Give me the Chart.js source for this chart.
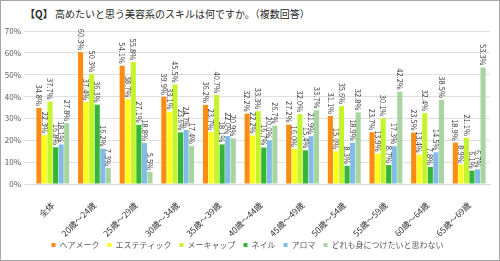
<!DOCTYPE html>
<html>
<head>
<meta charset="utf-8">
<script src="https://cdn.jsdelivr.net/npm/chart.js@4"></script>
<style>
    html, body { margin: 0; padding: 0; background: #fff; }
    .frame {
        position: relative;
        width: 498px;
        height: 259px;
        border: 1px solid #a6a6a6;
    }
    .title {
        position: absolute;
        left: 24px;
        top: 5px;
        font-family: "Noto Sans CJK JP", sans-serif;
        font-size: 10px;
        color: #262626;
    }
    canvas { position: absolute; left: 0; top: 0; }
</style>
</head>
<body>
<div class="frame">
    <div class="title"><b>【Q】</b> 高めたいと思う美容系のスキルは何ですか。（複数回答）</div>
    <canvas id="skillChart" width="498" height="259"></canvas>
</div>

<script>
    const categories = ["全体", "20歳～24歳", "25歳～29歳", "30歳～34歳", "35歳～39歳", "40歳～44歳",
        "45歳～49歳", "50歳～54歳", "55歳～59歳", "60歳～64歳", "65歳～69歳"]
    const yTicks = [0, 10, 20, 30, 40, 50, 60, 70]

    const hairMake = [34.8, 60.3, 54.1, 39.9, 36.2, 32.2, 27.2, 31.1, 23.7, 23.5, 18.9]
    const esthetic = [22.3, 37.4, 38.7, 33.1, 23.7, 22.2, 16.0, 15.0, 13.9, 13.4, 8.9]
    const makeup = [37.7, 50.3, 55.8, 45.5, 40.7, 33.3, 32.0, 35.6, 30.1, 32.4, 21.1]
    const nail = [16.8, 36.3, 27.1, 23.6, 18.1, 16.7, 15.4, 8.3, 8.7, 7.8, 6.1]
    const aroma = [18.1, 16.2, 18.8, 24.7, 22.0, 20.0, 21.9, 18.9, 17.3, 14.5, 6.7]
    const noneOfThem = [27.8, 7.3, 5.5, 17.4, 20.9, 26.7, 33.7, 32.8, 42.2, 38.5, 53.3]

    const fontFamily = '"Noto Sans CJK JP", sans-serif'

    // 棒の上に縦書き(90度回転)の数値ラベル
    const barLabels = {
        id: 'barLabels',
        beforeDraw(chart) {
            // x軸ラベルをクリップしない
            chart.scales.x._computeLabelArea = () => undefined
        },
        afterDatasetsDraw(chart) {
            const ctx = chart.ctx
            ctx.save()
            ctx.font = '7.5px ' + fontFamily
            ctx.fillStyle = '#404040'
            ctx.textAlign = 'right'
            ctx.textBaseline = 'middle'
            chart.data.datasets.forEach((ds, i) => {
                const meta = chart.getDatasetMeta(i)
                if (meta.hidden) return
                meta.data.forEach((bar, j) => {
                    ctx.save()
                    ctx.translate(bar.x, bar.y - 2)
                    ctx.rotate(Math.PI / 2)
                    ctx.fillText(ds.data[j].toFixed(1) + '%', 0, 0)
                    ctx.restore()
                })
            })
            ctx.restore()
        }
    }

    function makeChart() {
        const el = document.getElementById('skillChart')
        new Chart(el, {
            type: 'bar',
            data: {
                labels: categories,
                datasets: [
                    { label: 'ヘアメーク', data: hairMake, backgroundColor: '#fa8c14' },
                    { label: 'エステティック', data: esthetic, backgroundColor: '#ffff1a' },
                    { label: 'メーキャップ', data: makeup, backgroundColor: '#c4f52c' },
                    { label: 'ネイル', data: nail, backgroundColor: '#35b535' },
                    { label: 'アロマ', data: aroma, backgroundColor: '#80bce3' },
                    { label: 'どれも身につけたいと思わない', data: noneOfThem, backgroundColor: '#a8d4a0' }
                ]
            },
            options: {
                responsive: false,
                animation: false,
                layout: { padding: { top: 30, left: 4, right: 9, bottom: 1 } },
                datasets: {
                    bar: { categoryPercentage: 0.8, barPercentage: 0.92 }
                },
                scales: {
                    x: {
                        afterFit(scale) { scale.height = 49 },
                        grid: { display: false },
                        border: { color: '#d9d9d9' },
                        ticks: {
                            minRotation: 45,
                            maxRotation: 45,
                            padding: 8,
                            color: '#333333',
                            font: { family: fontFamily, size: 8.5 }
                        }
                    },
                    y: {
                        min: 0,
                        max: 70,
                        afterBuildTicks(scale) {
                            scale.ticks = yTicks.map(v => ({ value: v }))
                        },
                        afterFit(scale) { scale.width = 27 },
                        grid: { color: '#e0e0e0' },
                        border: { display: false },
                        ticks: {
                            color: '#595959',
                            font: { family: fontFamily, size: 8 },
                            callback: v => v + '%'
                        }
                    }
                },
                plugins: {
                    legend: {
                        position: 'bottom',
                        labels: {
                            boxWidth: 4,
                            boxHeight: 4,
                            padding: 8,
                            color: '#595959',
                            font: { family: fontFamily, size: 8 }
                        }
                    },
                    tooltip: { enabled: false }
                }
            },
            plugins: [barLabels]
        })
    }
    makeChart()
</script>
</body>
</html>
